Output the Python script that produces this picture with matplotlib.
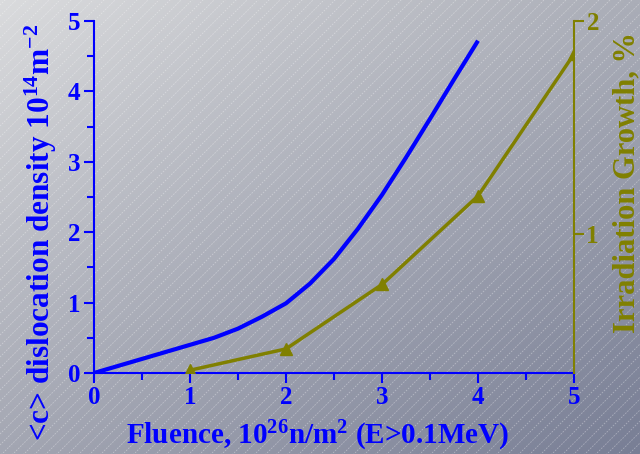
import numpy as np
import matplotlib
matplotlib.use("Agg")
import matplotlib.pyplot as plt
from matplotlib.ticker import MultipleLocator

plt.rcParams['font.family'] = ['Liberation Serif', 'DejaVu Serif']
plt.rcParams['font.weight'] = 'bold'
plt.rcParams['mathtext.fontset'] = 'custom'
plt.rcParams['mathtext.rm'] = 'Liberation Serif:bold'
plt.rcParams['mathtext.bf'] = 'Liberation Serif:bold'
plt.rcParams['mathtext.it'] = 'Liberation Serif:bold'
plt.rcParams['mathtext.default'] = 'rm'

# Data
fluence_density = [0, 0.25, 0.5, 0.75, 1.0, 1.25, 1.5, 1.75, 2.0, 2.25, 2.5, 2.75, 3.0, 3.25, 3.5, 3.75, 4.0]
density = [0, 0.10, 0.20, 0.30, 0.40, 0.50, 0.63, 0.80, 0.99, 1.27, 1.62, 2.05, 2.53, 3.06, 3.61, 4.17, 4.72]
fluence_growth = [1, 2, 3, 4, 5]
growth = [0.363, 0.463, 0.765, 1.18, 1.845]

x_ticks = [0, 1, 2, 3, 4, 5]
left_ticks = [0, 1, 2, 3, 4, 5]
right_ticks = [1, 2]

BLUE = '#0000ff'
OLIVE = '#808000'

W, H = 640, 454
fig = plt.figure(figsize=(W / 100, H / 100), dpi=100)

# background gradient with diagonal stripes
bg = fig.add_axes([0, 0, 1, 1], zorder=-10)
tl = np.array([218, 219, 221]) / 255
tr = np.array([170, 173, 183]) / 255
bl = np.array([163, 166, 178]) / 255
br = np.array([120, 126, 149]) / 255
u = np.linspace(0, 1, 200)[None, :, None]
v = np.linspace(0, 1, 150)[:, None, None]
img = (1 - v) * ((1 - u) * tl + u * tr) + v * ((1 - u) * bl + u * br)
bg.imshow(img, extent=[0, W, 0, H], aspect='auto', origin='upper')
for c in np.arange(-W, H + 20, 11):
    bg.plot([0, W], [c, c + W], color='white', alpha=0.35, lw=0.6,
            ls=(0, (2, 1.5)))
bg.set_xlim(0, W)
bg.set_ylim(0, H)
bg.axis('off')

ax = fig.add_axes([94 / W, 1 - 373 / H, (574 - 94) / W, (373 - 21) / H])
ax.patch.set_alpha(0)
ax.plot(fluence_density, density, color=BLUE, lw=3.0, solid_capstyle='butt',
        solid_joinstyle='round', zorder=3)
ax.set_xlim(0, 5)
ax.set_ylim(0, 5)
ax.set_xticks(x_ticks)
ax.set_yticks(left_ticks)
ax.yaxis.set_minor_locator(MultipleLocator(0.5))
ax.xaxis.set_minor_locator(MultipleLocator(0.5))
for s in ['top', 'right']:
    ax.spines[s].set_visible(False)
for s in ['left', 'bottom']:
    ax.spines[s].set_color(BLUE)
    ax.spines[s].set_linewidth(1.5)
ax.tick_params(axis='both', colors=BLUE, labelsize=18, width=1.5)
ax.tick_params(axis='both', which='major', length=7)
ax.tick_params(axis='both', which='minor', length=5, width=1.5, colors=BLUE)
ax.tick_params(axis='x', pad=2)
ax.tick_params(axis='y', pad=3)
for lab in ax.get_xticklabels() + ax.get_yticklabels():
    lab.set_fontweight('bold')

ax.set_xlabel('Fluence, 10$^{26}$n/m$^{2}$ (E>0.1MeV)', color=BLUE,
              fontsize=21, fontweight='bold')
ax.xaxis.set_label_coords(0.465, -0.13)
ax.set_ylabel('<c> dislocation density 10$^{14}$m$^{-2}$', color=BLUE,
              fontsize=22.5, fontweight='bold')
ax.yaxis.set_label_coords(-0.072, 0.40)

ax2 = ax.twinx()
ax2.patch.set_alpha(0)
ax2.plot(fluence_growth, growth, color=OLIVE, lw=2.5, marker='^',
         markersize=9, zorder=3)
ax2.set_ylim(0.35, 2.0)
ax2.set_yticks(right_ticks)
for s in ['top', 'left', 'bottom']:
    ax2.spines[s].set_visible(False)
ax2.spines['right'].set_color(OLIVE)
ax2.spines['right'].set_linewidth(1.5)
ax2.tick_params(axis='y', colors=OLIVE, labelsize=18, width=1.5, length=7,
                pad=2)
for lab in ax2.get_yticklabels():
    lab.set_fontweight('bold')
ax2.set_ylabel('Irradiation Growth, %', color=OLIVE, fontsize=22,
               fontweight='bold')
ax2.yaxis.set_label_coords(1.08, 0.54)

fig.savefig('out.png', dpi=100)
